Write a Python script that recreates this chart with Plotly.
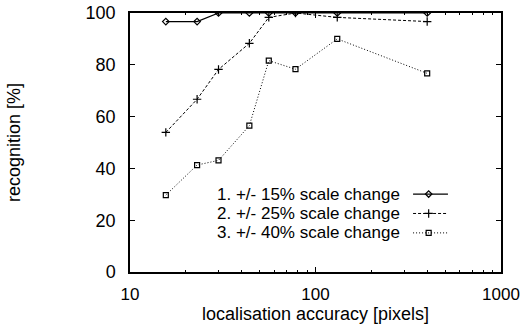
import plotly.graph_objects as go

accuracy = [15.6, 23, 30, 44, 56, 78, 131, 400]
scale15 = [96.7, 96.7, 100, 100, 100, 100, 100, 100]
scale25 = [53.9, 66.7, 78.2, 88.3, 98.3, 100, 98.3, 96.7]
scale40 = [29.7, 41.3, 43.1, 56.5, 81.6, 78.3, 90.0, 76.7]
labels = ["1. +/- 15% scale change", "2. +/- 25% scale change", "3. +/- 40% scale change"]
x_ticks = [10, 100, 1000]
x_minor = [20, 30, 40, 50, 60, 70, 80, 90, 200, 300, 400, 500, 600, 700, 800, 900]
y_ticks = [0, 20, 40, 60, 80, 100]

FONT = "Liberation Sans, Arial, Helvetica, sans-serif"
FS = 18
series = [scale15, scale25, scale40]
styles = [
    dict(dash="solid", symbol="diamond-open", size=5, lw=1.2),
    dict(dash="3px,2px", symbol="cross-thin-open", size=6, lw=1),
    dict(dash="1px,2px", symbol="square-open", size=5, lw=1),
]

fig = go.Figure()
for ys, st, lab in zip(series, styles, labels):
    fig.add_trace(go.Scatter(
        x=accuracy, y=ys, mode="lines+markers", name=lab, showlegend=False,
        line=dict(color="black", width=st["lw"], dash=st["dash"]),
        marker=dict(symbol=st["symbol"], size=st["size"], color="black",
                    line=dict(color="black", width=1.2)),
    ))

# custom gnuplot-style key (text right, sample left) on an overlay axis
key_y = [0.301, 0.226, 0.151]
for ys_k, st, lab in zip(key_y, styles, labels):
    fig.add_trace(go.Scatter(
        x=[0.763, 0.857], y=[ys_k, ys_k], mode="lines", xaxis="x2", yaxis="y2",
        showlegend=False, hoverinfo="skip",
        line=dict(color="black", width=st["lw"], dash=st["dash"]),
    ))
    fig.add_trace(go.Scatter(
        x=[0.805], y=[ys_k], mode="markers", xaxis="x2", yaxis="y2",
        showlegend=False, hoverinfo="skip",
        marker=dict(symbol=st["symbol"], size=st["size"], color="black",
                    line=dict(color="black", width=1.2)),
    ))
    fig.add_annotation(x=0.733, y=ys_k, xref="x2", yref="y2", text=lab,
                       showarrow=False, xanchor="right", yanchor="middle",
                       font=dict(family=FONT, size=17, color="black"))

fig.update_layout(
    width=521, height=325,
    margin=dict(l=130, r=20, t=13, b=53, autoexpand=False),
    paper_bgcolor="white", plot_bgcolor="white",
    font=dict(family=FONT, size=FS, color="black"),
    xaxis=dict(
        type="log", range=[1, 3], tickvals=x_ticks, ticktext=[str(v) for v in x_ticks],
        ticks="inside", ticklen=5, tickwidth=1, tickcolor="black",
        showline=True, linecolor="black", linewidth=1.5, mirror="allticks",
        showgrid=False, zeroline=False, automargin=False,
        ticklabelstandoff=6,
        minor=dict(ticks="inside", ticklen=2, tickcolor="black", showgrid=False,
                   tickvals=x_minor),
        title=dict(text="localisation accuracy [pixels]", standoff=4,
                   font=dict(family=FONT, size=FS)),
        tickfont=dict(family=FONT, size=17),
    ),
    yaxis=dict(
        range=[0, 100], tickvals=y_ticks,
        ticks="inside", ticklen=5, tickwidth=1, tickcolor="black",
        showline=True, linecolor="black", linewidth=1.5, mirror="allticks",
        showgrid=False, zeroline=False, automargin=False,
        ticklabelstandoff=9,
        title=dict(text="recognition [%]", standoff=60, font=dict(family=FONT, size=FS)),
        tickfont=dict(family=FONT, size=FS),
    ),
    xaxis2=dict(overlaying="x", range=[0, 1], visible=False, fixedrange=True),
    yaxis2=dict(overlaying="y", range=[0, 1], visible=False, fixedrange=True),
)

fig.write_html("out.html", config={"displayModeBar": False},
               post_script="document.body.style.margin='0';")
